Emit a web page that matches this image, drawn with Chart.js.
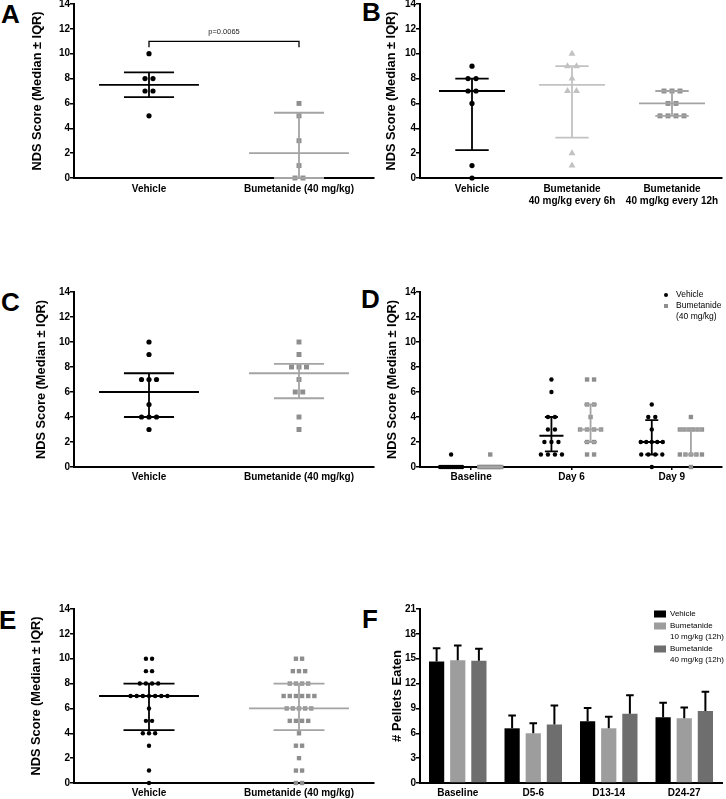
<!DOCTYPE html>
<html>
<head>
<meta charset="utf-8">
<script src="https://cdn.jsdelivr.net/npm/chart.js@4.4.1/dist/chart.umd.min.js"></script>
<style>
  body { margin: 0; background: #fff; width: 726px; height: 799px; overflow: hidden; position: relative; }
  canvas { position: absolute; }
  .tag { position: absolute; font: bold 26px 'Liberation Sans', Arial, sans-serif; line-height: 1; color: #000; }
</style>
</head>
<body>
<div class="tag" style="left:1px;top:1px">A</div>
<div class="tag" style="left:362px;top:-1px">B</div>
<div class="tag" style="left:1px;top:289px">C</div>
<div class="tag" style="left:361px;top:286px">D</div>
<div class="tag" style="left:-1px;top:607px">E</div>
<div class="tag" style="left:362px;top:606px">F</div>

<canvas id="chartA"></canvas>
<canvas id="chartB"></canvas>
<canvas id="chartC"></canvas>
<canvas id="chartD"></canvas>
<canvas id="chartE"></canvas>
<canvas id="chartF"></canvas>

<script>
// Data

// A
const aGroups = ['Vehicle', 'Bumetanide (40 mg/kg)'];
const aVehicle = [10, 8, 8, 7, 7, 5];
const aBumetanide = [6, 5, 3, 1, 0, 0];
const aMedian = [7.5, 2];
const aQ1 = [6.5, 0];
const aQ3 = [8.5, 5.25];
const aPValue = 'p=0.0065';

// B
const bGroups = ['Vehicle', ['Bumetanide', '40 mg/kg every 6h'], ['Bumetanide', '40 mg/kg every 12h']];
const bVehicle = [9, 8, 8, 7, 7, 6, 1, 0];
const bEvery6h = [10, 9, 9, 8, 7, 7, 2, 1];
const bEvery12h = [7, 7, 7, 6, 6, 5, 5, 5, 5];
const bMedian = [7, 7.5, 6];
const bQ1 = [2.25, 3.25, 5];
const bQ3 = [8, 9, 7];

// C
const cGroups = ['Vehicle', 'Bumetanide (40 mg/kg)'];
const cVehicle = [10, 9, 7, 7, 7, 5, 4, 4, 4, 3];
const cBumetanide = [10, 9, 8, 8, 8, 7, 6, 6, 4, 3];
const cMedian = [6, 7.5];
const cQ1 = [4, 5.5];
const cQ3 = [7.5, 8.25];

// D
const dDays = ['Baseline', 'Day 6', 'Day 9'];
const dVehicle = [
    [1, 0, 0, 0, 0, 0, 0, 0, 0, 0, 0, 0, 0],
    [7, 6, 4, 4, 3, 3, 2, 2, 2, 1, 1, 1, 1],
    [5, 4, 4, 3, 2, 2, 2, 2, 2, 1, 1, 1, 1, 0]
];
const dBumetanide = [
    [1, 0, 0, 0, 0, 0, 0, 0, 0, 0, 0, 0, 0],
    [7, 7, 5, 5, 4, 3, 3, 3, 3, 2, 2, 1, 1],
    [4, 3, 3, 3, 3, 3, 3, 1, 1, 1, 1, 1, 0]
];
const dVehicleMedian = [0, 2.5, 2];
const dVehicleQ1 = [0, 1.25, 1];
const dVehicleQ3 = [0, 4, 3.75];
const dBumetanideMedian = [0, 3, 3];
const dBumetanideQ1 = [0, 2, 1];
const dBumetanideQ3 = [0, 5, 3];
const dKeys = [['Vehicle'], ['Bumetanide', '(40 mg/kg)']];

// E
const eGroups = ['Vehicle', 'Bumetanide (40 mg/kg)'];
const eVehicle = [10, 10, 9, 9, 8, 8, 8, 8, 7, 7, 7, 7, 7, 7, 7, 6, 5, 5, 4, 4, 4, 3, 1, 0];
const eBumetanide = [10, 10, 9, 9, 9, 8, 8, 8, 8, 7, 7, 7, 7, 7, 7, 6, 6, 6, 6, 6,
    5, 5, 5, 5, 4, 3, 3, 2, 1, 1, 0, 0];
const eMedian = [7, 6];
const eQ1 = [4.25, 4.25];
const eQ3 = [8, 8];

// F
const fDays = ['Baseline', 'D5-6', 'D13-14', 'D24-27'];
const fVehicle = [14.65, 6.6, 7.45, 7.95];
const fVehicleErr = [1.6, 1.55, 1.6, 1.75];
const fLow = [14.8, 6.0, 6.6, 7.8];
const fLowErr = [1.8, 1.2, 1.4, 1.3];
const fHigh = [14.75, 7.05, 8.35, 8.7];
const fHighErr = [1.45, 2.3, 2.25, 2.3];
const fKeys = [['Vehicle'], ['Bumetanide', '10 mg/kg (12h)'], ['Bumetanide', '40 mg/kg (12h)']];

const NDS_TITLE = 'NDS Score (Median \u00b1 IQR)';

// Setup

const FONT = "'Liberation Sans', Arial, Helvetica, sans-serif";
Chart.defaults.font.family = FONT;
Chart.defaults.color = '#000';
Chart.defaults.animation = false;
Chart.defaults.events = [];
Chart.defaults.plugins.legend.display = false;
Chart.defaults.plugins.tooltip.enabled = false;

const BLACK = '#000';
const GREY_PT = '#8e8e8e';
const GREY_LN = '#a4a4a4';
const PALE = '#c2c2c2';

// size a canvas and work out padding so the plot area lands on the page spot
function place(id, box, area) {
    const cv = document.getElementById(id);
    cv.width = box.w;
    cv.height = box.h;
    cv.style.left = box.x + 'px';
    cv.style.top = box.y + 'px';
    return {
        canvas: cv,
        padding: { left: 0, top: area.top - box.y, right: box.x + box.w - area.right, bottom: 0 },
        yWidth: area.left - box.x,
        xHeight: box.y + box.h - area.bottom,
    };
}

function yAxis(fr, max, step, title, size, gap) {
    return {
        min: 0,
        max: max,
        ticks: { stepSize: step, font: { size: 10, weight: 'bold' }, padding: 0 },
        grid: { drawOnChartArea: false, tickLength: 4, color: '#000', lineWidth: 1.5 },
        border: { color: '#000', width: 2 },
        title: { display: true, text: title, font: { size: size, weight: 'bold' }, padding: { top: gap, bottom: 0 } },
        afterFit: s => { s.width = fr.yWidth; }
    };
}

function xAxis(fr, labels, min, max, tickLen, pad) {
    return {
        type: 'linear',
        min: min,
        max: max,
        afterBuildTicks: s => { s.ticks = labels.map((_, i) => ({ value: i + 1 })); },
        ticks: {
            callback: (v, i) => labels[i],
            font: { size: 10, weight: 'bold' },
            padding: pad,
            autoSkip: false,
            maxRotation: 0
        },
        grid: { drawOnChartArea: false, drawTicks: tickLen > 0, tickLength: tickLen, color: '#000', lineWidth: 1.5 },
        border: { color: '#000', width: 2 },
        afterFit: s => { s.height = fr.xHeight; }
    };
}

// equal scores sit side by side, centred on the column
function dots(values, x, step, maxSpread) {
    const count = {};
    const seen = {};
    values.forEach(v => { count[v] = (count[v] || 0) + 1; });
    return values.map(v => {
        const k = count[v];
        seen[v] = seen[v] === undefined ? 0 : seen[v] + 1;
        const gap = k > 1 ? Math.min(step, maxSpread / (k - 1)) : 0;
        return { x: x + (seen[v] - (k - 1) / 2) * gap, y: v };
    });
}

// median bar plus IQR whisker as broken line segments
function iqr(x, med, q1, q3, medHalf, capHalf) {
    return [
        { x: x - medHalf, y: med }, { x: x + medHalf, y: med }, { x: x, y: null },
        { x: x - capHalf, y: q3 }, { x: x + capHalf, y: q3 }, { x: x, y: null },
        { x: x - capHalf, y: q1 }, { x: x + capHalf, y: q1 }, { x: x, y: null },
        { x: x, y: q1 }, { x: x, y: q3 }
    ];
}

function lineSet(data, color) {
    return { data: data, showLine: true, pointRadius: 0, borderColor: color, borderWidth: 1.8, spanGaps: false, clip: false };
}

function pointSet(data, color, style, radius) {
    return { data: data, showLine: false, pointStyle: style, pointRadius: radius, backgroundColor: color, borderColor: color, borderWidth: 0, clip: false };
}

const bracket = {
    id: 'bracket',
    afterDraw(chart, args, o) {
        const { ctx, scales: { x, y } } = chart;
        const x1 = x.getPixelForValue(o.from);
        const x2 = x.getPixelForValue(o.to);
        const yy = y.getPixelForValue(o.at);
        ctx.save();
        ctx.strokeStyle = '#000';
        ctx.lineWidth = 1.3;
        ctx.beginPath();
        ctx.moveTo(x1, yy + 6);
        ctx.lineTo(x1, yy);
        ctx.lineTo(x2, yy);
        ctx.lineTo(x2, yy + 6);
        ctx.stroke();
        ctx.font = '7.5px ' + FONT;
        ctx.textAlign = 'center';
        ctx.textBaseline = 'middle';
        ctx.fillStyle = '#222';
        ctx.fillText(o.text, (x1 + x2) / 2, yy - 9);
        ctx.restore();
    }
};

const keyBox = {
    id: 'keyBox',
    afterDraw(chart, args, o) {
        const ctx = chart.ctx;
        let y = o.y;
        ctx.save();
        ctx.font = o.size + 'px ' + FONT;
        ctx.textBaseline = 'middle';
        o.items.forEach(item => {
            ctx.fillStyle = item.color;
            if (item.marker === 'box') {
                ctx.fillRect(o.x, y - 3.5, 12, 7);
            } else if (item.marker === 'square') {
                ctx.fillRect(o.x - 2, y - 2, 4, 4);
            } else {
                ctx.beginPath();
                ctx.arc(o.x, y, 2, 0, Math.PI * 2);
                ctx.fill();
            }
            ctx.fillStyle = '#000';
            item.lines.forEach((t, k) => ctx.fillText(t, o.x + o.gap, y + k * o.lh));
            y += item.lines.length * o.lh + o.space;
        });
        ctx.restore();
    }
};

const errorBars = {
    id: 'errorBars',
    afterDatasetsDraw(chart) {
        const ctx = chart.ctx;
        const y = chart.scales.y;
        chart.data.datasets.forEach((ds, i) => {
            chart.getDatasetMeta(i).data.forEach((bar, j) => {
                const top = y.getPixelForValue(ds.data[j] + ds.err[j]);
                ctx.save();
                ctx.strokeStyle = '#000';
                ctx.lineWidth = 2;
                ctx.beginPath();
                ctx.moveTo(bar.x, bar.y);
                ctx.lineTo(bar.x, top);
                ctx.moveTo(bar.x - 3.8, top);
                ctx.lineTo(bar.x + 3.8, top);
                ctx.stroke();
                ctx.restore();
            });
        });
    }
};

function scatterChart(fr, datasets, scales, pluginOpts, plugins) {
    return new Chart(fr.canvas, {
        type: 'scatter',
        data: { datasets: datasets },
        options: {
            responsive: false,
            layout: { padding: fr.padding },
            scales: scales,
            plugins: pluginOpts || {}
        },
        plugins: plugins || []
    });
}

// Panel A
const frA = place('chartA', { x: 0, y: -6, w: 380, h: 212 }, { left: 74, right: 374, top: 4, bottom: 178 });
scatterChart(frA, [
    lineSet(iqr(1, aMedian[0], aQ1[0], aQ3[0], 0.333, 0.167), BLACK),
    lineSet(iqr(2, aMedian[1], aQ1[1], aQ3[1], 0.333, 0.167), GREY_LN),
    pointSet(dots(aVehicle, 1, 0.053, 1), BLACK, 'circle', 2.6),
    pointSet(dots(aBumetanide, 2, 0.053, 1), GREY_PT, 'rect', 3.5)
], {
    x: xAxis(frA, aGroups, 0.5, 2.5, 0, 5),
    y: yAxis(frA, 14, 2, NDS_TITLE, 12.8, 30)
}, { bracket: { from: 1, to: 2, at: 11, text: aPValue } }, [bracket]);

// Panel B
const frB = place('chartB', { x: 363, y: -6, w: 363, h: 226 }, { left: 420, right: 722, top: 4, bottom: 178 });
scatterChart(frB, [
    lineSet(iqr(1, bMedian[0], bQ1[0], bQ3[0], 0.33, 0.167), BLACK),
    lineSet(iqr(2, bMedian[1], bQ1[1], bQ3[1], 0.33, 0.167), PALE),
    lineSet(iqr(3, bMedian[2], bQ1[2], bQ3[2], 0.33, 0.167), GREY_LN),
    pointSet(dots(bVehicle, 1, 0.08, 1), BLACK, 'circle', 2.6),
    pointSet(dots(bEvery6h, 2, 0.09, 1), PALE, 'triangle', 4),
    pointSet(dots(bEvery12h, 3, 0.08, 1), GREY_PT, 'rect', 3.5)
], {
    x: xAxis(frB, bGroups, 0.48, 3.5, 0, 5),
    y: yAxis(frB, 14, 2, NDS_TITLE, 12.8, 21)
});

// Panel C
const frC = place('chartC', { x: 0, y: 280, w: 380, h: 212 }, { left: 74, right: 374, top: 292, bottom: 467 });
scatterChart(frC, [
    lineSet(iqr(1, cMedian[0], cQ1[0], cQ3[0], 0.333, 0.167), BLACK),
    lineSet(iqr(2, cMedian[1], cQ1[1], cQ3[1], 0.333, 0.167), GREY_LN),
    pointSet(dots(cVehicle, 1, 0.05, 1), BLACK, 'circle', 2.6),
    pointSet(dots(cBumetanide, 2, 0.05, 1), GREY_PT, 'rect', 3.5)
], {
    x: xAxis(frC, cGroups, 0.5, 2.5, 0, 4),
    y: yAxis(frC, 14, 2, NDS_TITLE, 12.8, 34)
});

// Panel D
const frD = place('chartD', { x: 363, y: 280, w: 363, h: 212 }, { left: 420, right: 722, top: 292, bottom: 467 });
const dSets = [];
dDays.forEach((day, i) => {
    dSets.push(lineSet(iqr(i + 0.8, dVehicleMedian[i], dVehicleQ1[i], dVehicleQ3[i], 0.12, 0.065), BLACK));
    dSets.push(lineSet(iqr(i + 1.19, dBumetanideMedian[i], dBumetanideQ1[i], dBumetanideQ3[i], 0.12, 0.065), GREY_LN));
});
dDays.forEach((day, i) => {
    dSets.push(pointSet(dots(dVehicle[i], i + 0.8, 0.07, 0.22), BLACK, 'circle', 2.2));
    dSets.push(pointSet(dots(dBumetanide[i], i + 1.19, 0.07, 0.22), GREY_PT, 'rect', 3.1));
});
scatterChart(frD, dSets, {
    x: xAxis(frD, dDays, 0.49, 3.5, 3, 1),
    y: yAxis(frD, 14, 2, NDS_TITLE, 12.8, 22)
}, {
    keyBox: {
        x: 303, y: 15, gap: 10, lh: 11, space: 0, size: 8.5,
        items: [
            { marker: 'dot', color: BLACK, lines: dKeys[0] },
            { marker: 'square', color: GREY_PT, lines: dKeys[1] }
        ]
    }
}, [keyBox]);

// Panel E
const frE = place('chartE', { x: 0, y: 598, w: 380, h: 201 }, { left: 74, right: 374, top: 609, bottom: 783 });
scatterChart(frE, [
    lineSet(iqr(1, eMedian[0], eQ1[0], eQ3[0], 0.333, 0.17), BLACK),
    lineSet(iqr(2, eMedian[1], eQ1[1], eQ3[1], 0.333, 0.17), GREY_LN),
    pointSet(dots(eVehicle, 1, 0.041, 1), BLACK, 'circle', 2.2),
    pointSet(dots(eBumetanide, 2, 0.041, 1), GREY_PT, 'rect', 3.1)
], {
    x: xAxis(frE, eGroups, 0.5, 2.5, 0, 4),
    y: yAxis(frE, 14, 2, NDS_TITLE, 12.8, 29)
});

// Panel F
const frF = place('chartF', { x: 363, y: 598, w: 363, h: 201 }, { left: 420, right: 722, top: 609, bottom: 783 });
new Chart(frF.canvas, {
    type: 'bar',
    data: {
        labels: fDays,
        datasets: [
            { label: 'Vehicle', data: fVehicle, err: fVehicleErr, backgroundColor: '#000' },
            { label: 'Bumetanide 10 mg/kg (12h)', data: fLow, err: fLowErr, backgroundColor: '#9d9d9d' },
            { label: 'Bumetanide 40 mg/kg (12h)', data: fHigh, err: fHighErr, backgroundColor: '#6e6e6e' }
        ]
    },
    options: {
        responsive: false,
        layout: { padding: frF.padding },
        datasets: { bar: { categoryPercentage: 0.84, barPercentage: 0.72 } },
        scales: {
            x: {
                ticks: { font: { size: 10, weight: 'bold' }, padding: 4, maxRotation: 0, autoSkip: false },
                grid: { drawOnChartArea: false, drawTicks: false },
                border: { color: '#000', width: 2 },
                afterFit: s => { s.height = frF.xHeight; }
            },
            y: yAxis(frF, 21, 3, '# Pellets Eaten', 13, 27)
        },
        plugins: {
            keyBox: {
                x: 291, y: 16, gap: 16, lh: 11, space: 1, size: 8,
                items: [
                    { marker: 'box', color: '#000', lines: fKeys[0] },
                    { marker: 'box', color: '#9d9d9d', lines: fKeys[1] },
                    { marker: 'box', color: '#6e6e6e', lines: fKeys[2] }
                ]
            }
        }
    },
    plugins: [errorBars, keyBox]
});
</script>
</body>
</html>
